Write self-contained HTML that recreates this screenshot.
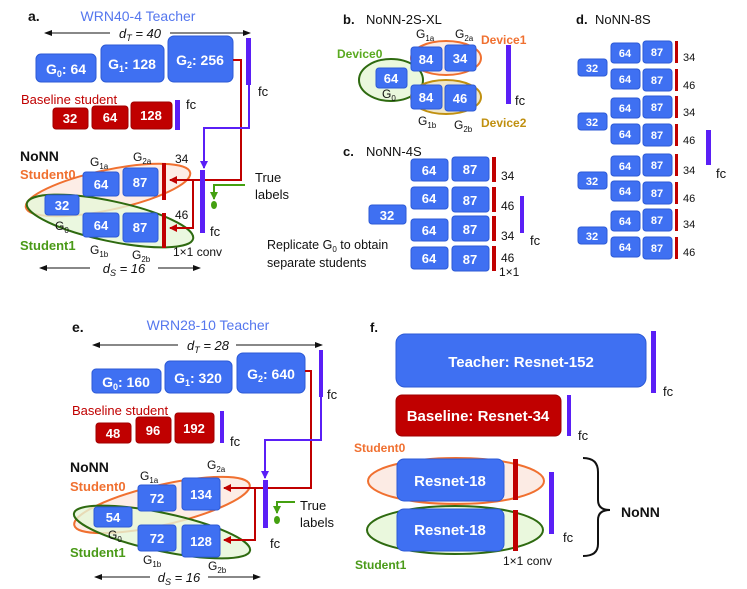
<!DOCTYPE html>
<html><head><meta charset="utf-8"><style>
html,body{margin:0;padding:0;background:#fff}
svg{display:block;font-family:"Liberation Sans",sans-serif}
.b{fill:#3f70f2;stroke:#2c5ad6;stroke-width:1}
.r{fill:#c00000;stroke:#a00000;stroke-width:1}
.w{fill:#fff;font-weight:bold;text-anchor:middle}
.k{fill:#111}
</style></head><body>
<svg width="747" height="589" viewBox="0 0 747 589" xmlns="http://www.w3.org/2000/svg">
<defs>
<marker id="ar" markerWidth="8" markerHeight="8" refX="7" refY="4" orient="auto" markerUnits="userSpaceOnUse"><path d="M0,0 L8,4 L0,8z" fill="#c00000"/></marker>
<marker id="ap" markerWidth="8" markerHeight="8" refX="7" refY="4" orient="auto" markerUnits="userSpaceOnUse"><path d="M0,0 L8,4 L0,8z" fill="#5a1ff6"/></marker>
<marker id="ag" markerWidth="8" markerHeight="8" refX="7" refY="4" orient="auto" markerUnits="userSpaceOnUse"><path d="M0,0 L8,4 L0,8z" fill="#44a010"/></marker>
<marker id="ak" markerWidth="8" markerHeight="8" refX="7" refY="4" orient="auto" markerUnits="userSpaceOnUse"><path d="M0,1 L8,4 L0,7z" fill="#111"/></marker>
</defs>

<!-- ===== Panel a ===== -->
<text x="28" y="21" font-size="14" font-weight="bold" class="k">a.</text>
<text x="138" y="21" font-size="14" fill="#5577ee" text-anchor="middle">WRN40-4 Teacher</text>
<line x1="110" y1="33" x2="45" y2="33" stroke="#111" marker-end="url(#ak)"/>
<line x1="170" y1="33" x2="250" y2="33" stroke="#111" marker-end="url(#ak)"/>
<text x="140" y="38" font-size="13" font-style="italic" text-anchor="middle" class="k">d<tspan font-size="9" dy="3">T</tspan><tspan dy="-3"> = 40</tspan></text>
<rect class="b" x="36" y="54" width="60" height="28" rx="5"/>
<text class="w" x="66" y="74" font-size="14">G<tspan font-size="9" dy="3">0</tspan><tspan dy="-3">: 64</tspan></text>
<rect class="b" x="101" y="45" width="63" height="37" rx="5"/>
<text class="w" x="132" y="69" font-size="14">G<tspan font-size="9" dy="3">1</tspan><tspan dy="-3">: 128</tspan></text>
<rect class="b" x="168" y="36" width="65" height="46" rx="6"/>
<text class="w" x="200" y="65" font-size="14">G<tspan font-size="9" dy="3">2</tspan><tspan dy="-3">: 256</tspan></text>
<rect x="246" y="38" width="5" height="47" fill="#5a1ff6"/>
<text x="258" y="96" font-size="13" class="k">fc</text>
<text x="21" y="104" font-size="13" fill="#c00000">Baseline student</text>
<rect class="r" x="53" y="108" width="35" height="21" rx="3"/><text class="w" x="70" y="123" font-size="13">32</text>
<rect class="r" x="92" y="106" width="36" height="23" rx="3"/><text class="w" x="110" y="122" font-size="13">64</text>
<rect class="r" x="131" y="102" width="41" height="27" rx="3"/><text class="w" x="151" y="120" font-size="13">128</text>
<rect x="175" y="100" width="5" height="30" fill="#5a1ff6"/>
<text x="186" y="109" font-size="13" class="k">fc</text>

<ellipse cx="108" cy="190" rx="84" ry="20" transform="rotate(-12 108 190)" fill="#fce8e0" fill-opacity="0.8" stroke="#f07030" stroke-width="2"/>
<ellipse cx="110" cy="221" rx="85" ry="20" transform="rotate(12 110 221)" fill="#e6f6d8" fill-opacity="0.8" stroke="#2e6a10" stroke-width="2"/>
<text x="20" y="161" font-size="14" font-weight="bold" class="k">NoNN</text>
<text x="20" y="179" font-size="13" font-weight="bold" fill="#f07030">Student0</text>
<text x="20" y="250" font-size="13" font-weight="bold" fill="#4a9a18">Student1</text>
<rect class="b" x="45" y="195" width="34" height="20" rx="3"/><text class="w" x="62" y="210" font-size="13">32</text>
<rect class="b" x="83" y="172" width="36" height="24" rx="3"/><text class="w" x="101" y="189" font-size="13">64</text>
<rect class="b" x="123" y="168" width="35" height="28" rx="3"/><text class="w" x="140" y="187" font-size="13">87</text>
<rect class="b" x="83" y="213" width="36" height="24" rx="3"/><text class="w" x="101" y="230" font-size="13">64</text>
<rect class="b" x="123" y="213" width="35" height="29" rx="3"/><text class="w" x="140" y="232" font-size="13">87</text>
<rect x="162" y="163" width="4" height="37" fill="#c00000"/>
<rect x="162" y="213" width="4" height="35" fill="#c00000"/>
<text x="90" y="166" font-size="12" class="k">G<tspan font-size="8" dy="3">1a</tspan></text>
<text x="133" y="161" font-size="12" class="k">G<tspan font-size="8" dy="3">2a</tspan></text>
<text x="175" y="163" font-size="12" class="k">34</text>
<text x="175" y="219" font-size="12" class="k">46</text>
<text x="55" y="230" font-size="12" class="k">G<tspan font-size="8" dy="3">0</tspan></text>
<text x="90" y="254" font-size="12" class="k">G<tspan font-size="8" dy="3">1b</tspan></text>
<text x="132" y="259" font-size="12" class="k">G<tspan font-size="8" dy="3">2b</tspan></text>
<text x="173" y="256" font-size="12" class="k">1×1 conv</text>
<polyline points="233,60 241,60 241,180 170,180" fill="none" stroke="#c00000" stroke-width="2" marker-end="url(#ar)"/>
<polyline points="193,180 193,228 170,228" fill="none" stroke="#c00000" stroke-width="2" marker-end="url(#ar)"/>
<polyline points="249,85 249,128 204,128 204,168" fill="none" stroke="#5a1ff6" stroke-width="2" marker-end="url(#ap)"/>
<rect x="200" y="170" width="5" height="63" fill="#5a1ff6"/>
<text x="210" y="236" font-size="13" class="k">fc</text>
<text x="255" y="182" font-size="13" class="k">True</text>
<text x="255" y="199" font-size="13" class="k">labels</text>
<polyline points="245,185 214,185 214,199" fill="none" stroke="#44a010" stroke-width="2" marker-end="url(#ag)"/>
<ellipse cx="214" cy="205" rx="3" ry="4" fill="#44a010"/>
<line x1="90" y1="268" x2="40" y2="268" stroke="#111" marker-end="url(#ak)"/>
<line x1="158" y1="268" x2="200" y2="268" stroke="#111" marker-end="url(#ak)"/>
<text x="124" y="273" font-size="13" font-style="italic" text-anchor="middle" class="k">d<tspan font-size="9" dy="3">S</tspan><tspan dy="-3"> = 16</tspan></text>

<!-- ===== Panel b ===== -->
<text x="343" y="24" font-size="13" font-weight="bold" class="k">b.</text>
<text x="366" y="24" font-size="13" class="k">NoNN-2S-XL</text>
<ellipse cx="391" cy="80" rx="32" ry="21" fill="#eaf8dd" stroke="#2e6a10" stroke-width="2"/>
<ellipse cx="446" cy="58" rx="35" ry="17" fill="#fcebe4" stroke="#f07030" stroke-width="2"/>
<ellipse cx="446" cy="97" rx="35" ry="17" fill="#efe6c8" stroke="#c09010" stroke-width="2"/>
<text x="337" y="58" font-size="12" font-weight="bold" fill="#5aaa20">Device0</text>
<text x="481" y="44" font-size="12" font-weight="bold" fill="#f07030">Device1</text>
<text x="481" y="127" font-size="12" font-weight="bold" fill="#c09010">Device2</text>
<rect class="b" x="376" y="68" width="31" height="20" rx="3"/><text class="w" x="391" y="83" font-size="13">64</text>
<rect class="b" x="411" y="47" width="31" height="24" rx="3"/><text class="w" x="426" y="64" font-size="13">84</text>
<rect class="b" x="445" y="45" width="31" height="26" rx="3"/><text class="w" x="460" y="63" font-size="13">34</text>
<rect class="b" x="411" y="85" width="31" height="24" rx="3"/><text class="w" x="426" y="102" font-size="13">84</text>
<rect class="b" x="445" y="85" width="31" height="26" rx="3"/><text class="w" x="460" y="103" font-size="13">46</text>
<rect x="506" y="45" width="5" height="59" fill="#5a1ff6"/>
<text x="515" y="105" font-size="13" class="k">fc</text>
<text x="416" y="38" font-size="12" class="k">G<tspan font-size="8" dy="3">1a</tspan></text>
<text x="455" y="38" font-size="12" class="k">G<tspan font-size="8" dy="3">2a</tspan></text>
<text x="382" y="98" font-size="12" class="k">G<tspan font-size="8" dy="3">0</tspan></text>
<text x="418" y="125" font-size="12" class="k">G<tspan font-size="8" dy="3">1b</tspan></text>
<text x="454" y="129" font-size="12" class="k">G<tspan font-size="8" dy="3">2b</tspan></text>

<!-- ===== Panel c ===== -->
<text x="343" y="156" font-size="13" font-weight="bold" class="k">c.</text>
<text x="366" y="156" font-size="13" class="k">NoNN-4S</text>
<g>
<rect class="b" x="411" y="159" width="37" height="22" rx="3"/><text class="w" x="429" y="175" font-size="13">64</text>
<rect class="b" x="452" y="157" width="37" height="24" rx="3"/><text class="w" x="470" y="174" font-size="13">87</text>
<rect x="492" y="157" width="4" height="25" fill="#c00000"/>
<rect class="b" x="411" y="187" width="37" height="22" rx="3"/><text class="w" x="429" y="203" font-size="13">64</text>
<rect class="b" x="452" y="187" width="37" height="25" rx="3"/><text class="w" x="470" y="205" font-size="13">87</text>
<rect x="492" y="187" width="4" height="25" fill="#c00000"/>
<rect class="b" x="411" y="219" width="37" height="22" rx="3"/><text class="w" x="429" y="235" font-size="13">64</text>
<rect class="b" x="452" y="216" width="37" height="25" rx="3"/><text class="w" x="470" y="234" font-size="13">87</text>
<rect x="492" y="216" width="4" height="25" fill="#c00000"/>
<rect class="b" x="411" y="247" width="37" height="22" rx="3"/><text class="w" x="429" y="263" font-size="13">64</text>
<rect class="b" x="452" y="246" width="37" height="25" rx="3"/><text class="w" x="470" y="264" font-size="13">87</text>
<rect x="492" y="246" width="4" height="25" fill="#c00000"/>
</g>
<text x="501" y="180" font-size="12" class="k">34</text>
<text x="501" y="210" font-size="12" class="k">46</text>
<text x="501" y="240" font-size="12" class="k">34</text>
<text x="501" y="262" font-size="12" class="k">46</text>
<text x="499" y="276" font-size="12" class="k">1×1</text>
<rect class="b" x="369" y="205" width="37" height="19" rx="3"/><text class="w" x="387" y="220" font-size="13">32</text>
<rect x="520" y="196" width="4" height="37" fill="#5a1ff6"/>
<text x="530" y="245" font-size="13" class="k">fc</text>
<text x="267" y="249" font-size="12.5" class="k">Replicate G<tspan font-size="8" dy="3">0</tspan><tspan dy="-3"> to obtain</tspan></text>
<text x="267" y="267" font-size="12.5" class="k">separate students</text>

<!-- ===== Panel d ===== -->
<text x="576" y="24" font-size="13" font-weight="bold" class="k">d.</text>
<text x="595" y="24" font-size="13" class="k">NoNN-8S</text>
<g font-size="11">
<rect class="b" x="578" y="59" width="29" height="17" rx="3"/><text class="w" x="592" y="72">32</text>
<rect class="b" x="578" y="113" width="29" height="17" rx="3"/><text class="w" x="592" y="126">32</text>
<rect class="b" x="578" y="172" width="29" height="17" rx="3"/><text class="w" x="592" y="185">32</text>
<rect class="b" x="578" y="227" width="29" height="17" rx="3"/><text class="w" x="592" y="240">32</text>

<rect class="b" x="611" y="43" width="29" height="20" rx="3"/><text class="w" x="625" y="57">64</text>
<rect class="b" x="643" y="41" width="29" height="22" rx="3"/><text class="w" x="657" y="56">87</text>
<rect x="675" y="41" width="3" height="22" fill="#c00000"/><text x="683" y="61" class="k">34</text>
<rect class="b" x="611" y="69" width="29" height="20" rx="3"/><text class="w" x="625" y="83">64</text>
<rect class="b" x="643" y="69" width="29" height="22" rx="3"/><text class="w" x="657" y="84">87</text>
<rect x="675" y="69" width="3" height="22" fill="#c00000"/><text x="683" y="89" class="k">46</text>

<rect class="b" x="611" y="98" width="29" height="20" rx="3"/><text class="w" x="625" y="112">64</text>
<rect class="b" x="643" y="96" width="29" height="22" rx="3"/><text class="w" x="657" y="111">87</text>
<rect x="675" y="96" width="3" height="22" fill="#c00000"/><text x="683" y="116" class="k">34</text>
<rect class="b" x="611" y="124" width="29" height="20" rx="3"/><text class="w" x="625" y="138">64</text>
<rect class="b" x="643" y="124" width="29" height="22" rx="3"/><text class="w" x="657" y="139">87</text>
<rect x="675" y="124" width="3" height="22" fill="#c00000"/><text x="683" y="144" class="k">46</text>

<rect class="b" x="611" y="156" width="29" height="20" rx="3"/><text class="w" x="625" y="170">64</text>
<rect class="b" x="643" y="154" width="29" height="22" rx="3"/><text class="w" x="657" y="169">87</text>
<rect x="675" y="154" width="3" height="22" fill="#c00000"/><text x="683" y="174" class="k">34</text>
<rect class="b" x="611" y="181" width="29" height="20" rx="3"/><text class="w" x="625" y="195">64</text>
<rect class="b" x="643" y="182" width="29" height="22" rx="3"/><text class="w" x="657" y="197">87</text>
<rect x="675" y="182" width="3" height="22" fill="#c00000"/><text x="683" y="202" class="k">46</text>

<rect class="b" x="611" y="211" width="29" height="20" rx="3"/><text class="w" x="625" y="225">64</text>
<rect class="b" x="643" y="209" width="29" height="22" rx="3"/><text class="w" x="657" y="224">87</text>
<rect x="675" y="209" width="3" height="22" fill="#c00000"/><text x="683" y="228" class="k">34</text>
<rect class="b" x="611" y="237" width="29" height="20" rx="3"/><text class="w" x="625" y="251">64</text>
<rect class="b" x="643" y="237" width="29" height="22" rx="3"/><text class="w" x="657" y="252">87</text>
<rect x="675" y="237" width="3" height="22" fill="#c00000"/><text x="683" y="256" class="k">46</text>
</g>
<rect x="706" y="130" width="5" height="35" fill="#5a1ff6"/>
<text x="716" y="178" font-size="13" class="k">fc</text>

<!-- ===== Panel e ===== -->
<text x="72" y="332" font-size="14" font-weight="bold" class="k">e.</text>
<text x="208" y="330" font-size="14" fill="#5577ee" text-anchor="middle">WRN28-10 Teacher</text>
<line x1="178" y1="345" x2="93" y2="345" stroke="#111" marker-end="url(#ak)"/>
<line x1="236" y1="345" x2="322" y2="345" stroke="#111" marker-end="url(#ak)"/>
<text x="208" y="350" font-size="13" font-style="italic" text-anchor="middle" class="k">d<tspan font-size="9" dy="3">T</tspan><tspan dy="-3"> = 28</tspan></text>
<rect class="b" x="92" y="369" width="69" height="24" rx="4"/>
<text class="w" x="126" y="387" font-size="14">G<tspan font-size="9" dy="3">0</tspan><tspan dy="-3">: 160</tspan></text>
<rect class="b" x="165" y="361" width="67" height="32" rx="5"/>
<text class="w" x="198" y="383" font-size="14">G<tspan font-size="9" dy="3">1</tspan><tspan dy="-3">: 320</tspan></text>
<rect class="b" x="237" y="353" width="68" height="40" rx="6"/>
<text class="w" x="271" y="379" font-size="14">G<tspan font-size="9" dy="3">2</tspan><tspan dy="-3">: 640</tspan></text>
<rect x="319" y="350" width="4" height="47" fill="#5a1ff6"/>
<text x="327" y="399" font-size="13" class="k">fc</text>
<text x="72" y="415" font-size="13" fill="#c00000">Baseline student</text>
<rect class="r" x="96" y="423" width="35" height="20" rx="3"/><text class="w" x="113" y="438" font-size="13">48</text>
<rect class="r" x="136" y="417" width="35" height="26" rx="3"/><text class="w" x="153" y="435" font-size="13">96</text>
<rect class="r" x="175" y="413" width="39" height="30" rx="3"/><text class="w" x="194" y="433" font-size="13">192</text>
<rect x="220" y="411" width="4" height="32" fill="#5a1ff6"/>
<text x="230" y="446" font-size="13" class="k">fc</text>

<ellipse cx="162" cy="505" rx="90" ry="20" transform="rotate(-13 162 505)" fill="#fce8e0" fill-opacity="0.8" stroke="#f07030" stroke-width="2"/>
<ellipse cx="162" cy="532" rx="90" ry="19" transform="rotate(12 162 532)" fill="#e6f6d8" fill-opacity="0.8" stroke="#2e6a10" stroke-width="2"/>
<text x="70" y="472" font-size="14" font-weight="bold" class="k">NoNN</text>
<text x="70" y="491" font-size="13" font-weight="bold" fill="#f07030">Student0</text>
<text x="70" y="557" font-size="13" font-weight="bold" fill="#4a9a18">Student1</text>
<rect class="b" x="94" y="507" width="38" height="20" rx="3"/><text class="w" x="113" y="522" font-size="13">54</text>
<rect class="b" x="138" y="485" width="38" height="26" rx="3"/><text class="w" x="157" y="503" font-size="13">72</text>
<rect class="b" x="182" y="478" width="38" height="32" rx="3"/><text class="w" x="201" y="499" font-size="13">134</text>
<rect class="b" x="138" y="525" width="38" height="26" rx="3"/><text class="w" x="157" y="543" font-size="13">72</text>
<rect class="b" x="182" y="525" width="38" height="32" rx="3"/><text class="w" x="201" y="546" font-size="13">128</text>
<text x="140" y="480" font-size="12" class="k">G<tspan font-size="8" dy="3">1a</tspan></text>
<text x="207" y="469" font-size="12" class="k">G<tspan font-size="8" dy="3">2a</tspan></text>
<text x="108" y="539" font-size="12" class="k">G<tspan font-size="8" dy="3">0</tspan></text>
<text x="143" y="564" font-size="12" class="k">G<tspan font-size="8" dy="3">1b</tspan></text>
<text x="208" y="570" font-size="12" class="k">G<tspan font-size="8" dy="3">2b</tspan></text>
<polyline points="305,371 311,371 311,488 224,488" fill="none" stroke="#c00000" stroke-width="2" marker-end="url(#ar)"/>
<polyline points="255,488 255,540 224,540" fill="none" stroke="#c00000" stroke-width="2" marker-end="url(#ar)"/>
<polyline points="321,397 321,440 265,440 265,478" fill="none" stroke="#5a1ff6" stroke-width="2" marker-end="url(#ap)"/>
<rect x="263" y="480" width="5" height="48" fill="#5a1ff6"/>
<text x="270" y="548" font-size="13" class="k">fc</text>
<text x="300" y="510" font-size="13" class="k">True</text>
<text x="300" y="527" font-size="13" class="k">labels</text>
<polyline points="295,502 277,502 277,513" fill="none" stroke="#44a010" stroke-width="2" marker-end="url(#ag)"/>
<ellipse cx="277" cy="520" rx="3" ry="4" fill="#44a010"/>
<line x1="150" y1="577" x2="95" y2="577" stroke="#111" marker-end="url(#ak)"/>
<line x1="208" y1="577" x2="260" y2="577" stroke="#111" marker-end="url(#ak)"/>
<text x="179" y="582" font-size="13" font-style="italic" text-anchor="middle" class="k">d<tspan font-size="9" dy="3">S</tspan><tspan dy="-3"> = 16</tspan></text>

<!-- ===== Panel f ===== -->
<text x="370" y="332" font-size="13" font-weight="bold" class="k">f.</text>
<rect class="b" x="396" y="334" width="250" height="53" rx="9"/>
<text class="w" x="521" y="367" font-size="15">Teacher: Resnet-152</text>
<rect x="651" y="331" width="5" height="62" fill="#5a1ff6"/>
<text x="663" y="396" font-size="13" class="k">fc</text>
<rect class="r" x="396" y="395" width="165" height="41" rx="6"/>
<text class="w" x="478" y="421" font-size="15">Baseline: Resnet-34</text>
<rect x="567" y="395" width="4" height="41" fill="#5a1ff6"/>
<text x="578" y="440" font-size="13" class="k">fc</text>
<text x="354" y="452" font-size="12" font-weight="bold" fill="#f07030">Student0</text>
<ellipse cx="456" cy="481" rx="88" ry="23" fill="#fcebe4" stroke="#f07030" stroke-width="2"/>
<ellipse cx="455" cy="530" rx="88" ry="24" fill="#eaf8dd" stroke="#2e6a10" stroke-width="2"/>
<rect class="b" x="397" y="459" width="107" height="42" rx="7"/>
<text class="w" x="450" y="486" font-size="15">Resnet-18</text>
<rect class="b" x="397" y="509" width="107" height="42" rx="7"/>
<text class="w" x="450" y="535" font-size="15">Resnet-18</text>
<rect x="513" y="459" width="5" height="41" fill="#c00000"/>
<rect x="513" y="510" width="5" height="41" fill="#c00000"/>
<text x="355" y="569" font-size="12" font-weight="bold" fill="#4a9a18">Student1</text>
<text x="503" y="565" font-size="12" class="k">1×1 conv</text>
<rect x="549" y="472" width="5" height="62" fill="#5a1ff6"/>
<text x="563" y="542" font-size="13" class="k">fc</text>
<path d="M583,458 Q598,458 598,472 L598,500 Q598,510 610,510 Q598,510 598,520 L598,544 Q598,556 583,556" fill="none" stroke="#111" stroke-width="2"/>
<text x="621" y="517" font-size="14" font-weight="bold" class="k">NoNN</text>
</svg>
</body></html>
